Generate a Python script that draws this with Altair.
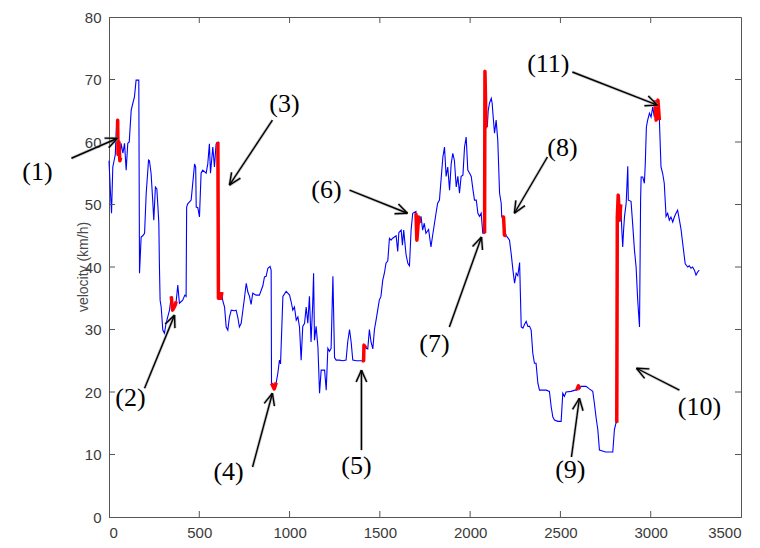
import math
import altair as alt
import pandas as pd

# ---------------- data ----------------
time_s = [0, 8, 14, 21, 28, 35, 42, 48, 50, 55, 60, 67, 77, 86, 95, 104, 112, 123, 132, 141, 150, 165,
          169, 178, 187, 197, 206, 219, 224, 233, 242, 248, 257, 265, 271, 276, 279, 283, 289, 298, 307,
          316, 335, 345, 352, 360, 368, 372, 381, 390, 408, 420, 427, 430, 436, 455, 474, 480, 483, 492,
          501, 510, 519, 538, 547, 556, 562, 575, 584, 593, 603, 606, 620, 625, 630, 640, 649, 658, 667,
          677, 695, 704, 713, 722, 732, 741, 750, 760, 769, 778, 787, 796, 814, 833, 852, 861, 870, 880,
          892, 898, 900, 915, 926, 935, 944, 950, 963, 981, 1000, 1009, 1018, 1027, 1037, 1046, 1055,
          1064, 1073, 1083, 1092, 1101, 1110, 1119, 1128, 1133, 1138, 1147, 1157, 1166, 1175, 1185,
          1194, 1203, 1212, 1221, 1230, 1240, 1249, 1258, 1276, 1295, 1313, 1322, 1332, 1341, 1350,
          1370, 1385, 1400, 1410, 1412, 1424, 1433, 1442, 1451, 1461, 1470, 1479, 1497, 1506, 1516,
          1525, 1534, 1544, 1553, 1562, 1571, 1590, 1599, 1605, 1618, 1625, 1632, 1645, 1655, 1664,
          1673, 1682, 1700, 1705, 1715, 1719, 1728, 1737, 1746, 1755, 1770, 1783, 1792, 1811, 1820,
          1830, 1849, 1858, 1867, 1876, 1886, 1895, 1904, 1913, 1923, 1932, 1941, 1950, 1960, 1969,
          1978, 1987, 1997, 2006, 2016, 2024, 2034, 2043, 2052, 2061, 2070, 2080, 2082, 2088, 2095,
          2100, 2107, 2117, 2122, 2126, 2135, 2144, 2153, 2163, 2172, 2175, 2185, 2190, 2200, 2218,
          2227, 2237, 2246, 2255, 2264, 2274, 2278, 2283, 2292, 2301, 2310, 2320, 2329, 2338, 2347,
          2356, 2365, 2375, 2384, 2402, 2421, 2439, 2449, 2458, 2467, 2486, 2504, 2513, 2522, 2531,
          2559, 2580, 2590, 2600, 2605, 2614, 2642, 2660, 2679, 2688, 2697, 2707, 2716, 2750, 2790,
          2799, 2808, 2812, 2815, 2820, 2828, 2834, 2840, 2845, 2850, 2855, 2864, 2873, 2876, 2891,
          2900, 2910, 2919, 2928, 2938, 2944, 2947, 2956, 2965, 2970, 2976, 2983, 2993, 3002, 3011,
          3020, 3022, 3030, 3040, 3048, 3057, 3066, 3075, 3085, 3094, 3103, 3112, 3122, 3131, 3140,
          3149, 3159, 3168, 3177, 3191, 3205, 3214, 3223, 3232, 3242, 3251, 3260, 3269]
velocity = [57, 52, 48.6, 56, 57, 58, 63.5, 63.5, 58, 60, 57, 59.8, 58.2, 59.8, 55.5, 59.8, 60, 65.1,
            66.2, 67.2, 69.9, 69.9, 39, 44.8, 45, 45.4, 51.8, 57.1, 57, 55, 50.7, 47.5, 52.8, 52.5,
            49.6, 47, 40.6, 34.7, 33.6, 29.9, 29.4, 31, 33.1, 35.3, 33.1, 33.5, 34, 34.5, 37.1, 34.2,
            34.7, 35.5, 35.3, 49.6, 50.1, 50.7, 56.5, 56, 49.6, 49.5, 48, 55, 55.5, 55, 56.5, 59.7,
            55, 59.2, 56, 59.7, 60, 35, 35, 36, 34.6, 33.6, 30.4, 29.9, 32, 33.1, 33, 33.1, 32, 30.4,
            31, 33, 35, 37.4, 36, 35.3, 34, 35.8, 35.5, 35.5, 37, 38.4, 38.5, 39.8, 40.1, 39.5, 21.4,
            20.5, 21.5, 23, 25.1, 24.5, 35.3, 36.1, 35.5, 34.4, 33.1, 33.6, 31.5, 32, 30.4, 25.1,
            30.5, 31, 33.6, 31, 35.3, 28, 34, 39, 28.3, 30.5, 27.2, 19.8, 23.5, 23.5, 23.5, 20.3, 27,
            26.5, 27, 38.5, 25.5, 25.1, 25.1, 25, 25.1, 28, 30, 28, 25.1, 25, 25, 25, 25, 27.5, 27,
            26.9, 30, 28, 26.9, 30, 31.5, 34.7, 35.3, 37.9, 39, 40.6, 41, 44.6, 44.3, 44.6, 45, 42.5,
            45.5, 45.9, 43.5, 45.9, 42, 40.6, 40.2, 45.9, 48.6, 48.9, 44.3, 48, 47, 48.1, 45.9, 47,
            45.4, 46, 43.2, 45, 48.6, 50.2, 50.7, 57.6, 59.2, 54.5, 56, 52.3, 56.5, 58.2, 57, 52.8,
            54.5, 51.8, 54.5, 54.7, 59.2, 60.8, 55.5, 55, 54.5, 52.3, 50.7, 50.7, 48.6, 48.1, 48.6,
            45.4, 45.4, 71.3, 62.5, 62.5, 65, 66.2, 67, 66.2, 64.6, 61.4, 63.5, 60.3, 51.8, 50.2, 48,
            48, 45.1, 45, 44.3, 42.2, 39.5, 37.4, 39, 38.6, 40.7, 36, 30.4, 30.2, 30.8, 31.3, 30.5,
            30.5, 29.9, 26.2, 24.6, 24.6, 21.4, 20.3, 20.3, 20.3, 20.1, 17.6, 16, 15.5, 15.3, 15.3,
            19.8, 19.3, 20, 20.1, 20.3, 20.3, 21, 20.5, 20.9, 20.9, 20.5, 20.1, 18.2, 16, 14, 10.7,
            10.4, 10.4, 14, 15.1, 15.1, 48, 51.5, 47.5, 50, 45.9, 43.2, 46, 48.1, 50.2, 56.1, 50.7,
            50.5, 46.9, 42.7, 40, 34.7, 30.4, 50.7, 54.4, 54.4, 53.4, 56.6, 62.4, 63.5, 64.6, 64, 65.6,
            64, 66.7, 63.5, 66.7, 63.5, 56, 55, 53.4, 48.1, 48.6, 47.5, 48, 47.2, 48, 48.6, 49.1,
            47.5, 46, 43.8, 40.5, 40, 40.2, 39.8, 40, 39.5, 38.7, 39.2, 39.5]

# highlighted (red) segments: id, time, velocity
seg_id = [1] * 6 + [2] * 5 + [3] * 4 + [4] * 3 + [5] * 4 + [6] * 4 + [7] * 4 + [8] * 4 + [9] * 3 + [10] * 5 + [11] * 4
seg_time = [42, 48, 50, 55, 60, 65,
            345, 352, 360, 368, 372,
            603, 606, 620, 625,
            900, 915, 926,
            1400, 1410, 1412, 1424,
            1700, 1705, 1715, 1719,
            2080, 2082, 2088, 2095,
            2175, 2185, 2190, 2200,
            2590, 2600, 2605,
            2812, 2815, 2820, 2828, 2834,
            3022, 3030, 3040, 3048]
seg_vel = [63.5, 63.5, 58, 60, 57, 57.5,
           35.3, 33.1, 33.5, 34, 34.5,
           60, 35, 35, 36,
           21.4, 20.5, 21.5,
           25, 25, 27.5, 27,
           48.6, 44.3, 48, 47,
           45.4, 71.3, 62.5, 62.5,
           48, 48, 45.1, 45,
           20.3, 21, 20.5,
           15.1, 48, 51.5, 47.5, 50,
           66.7, 63.5, 66.7, 63.5]

# annotation labels and arrows (data coordinates)
label_text = ["(1)", "(2)", "(3)", "(4)", "(5)", "(6)", "(7)", "(8)", "(9)", "(10)", "(11)"]
label_x = [-396, 119, 972, 662, 1370, 1204, 1802, 2511, 2555, 3270, 2433]
label_y = [55.2, 19.0, 66.1, 7.2, 8.2, 52.3, 27.7, 59.0, 7.5, 17.6, 72.5]
tail_x = [-208, 197, 905, 795, 1398, 1332, 1885, 2428, 2561, 3159, 2566]
tail_y = [57.4, 20.6, 63.5, 8.0, 10.7, 52.3, 30.4, 57.6, 9.6, 20.3, 71.2]
head_x = [47, 363, 667, 905, 1398, 1653, 2063, 2245, 2605, 2921, 3037]
head_y = [60.6, 32.3, 53.1, 19.8, 23.5, 48.6, 44.8, 48.6, 19.0, 23.8, 65.9]

x_ticks = [0, 500, 1000, 1500, 2000, 2500, 3000, 3500]
y_ticks = [0, 10, 20, 30, 40, 50, 60, 70, 80]

# ---------------- layout ----------------
W, H = 632, 500
X_MAX, Y_MAX = 3500, 80
sx, sy = W / X_MAX, H / Y_MAX  # px per data unit

line_df = pd.DataFrame({"t": time_s, "v": velocity})
seg_df = pd.DataFrame({"id": seg_id, "t": seg_time, "v": seg_vel})
lab_df = pd.DataFrame({"txt": label_text, "x": label_x, "y": label_y})

shaft_rows, barb_rows = [], []
for tx, ty, hx, hy in zip(tail_x, tail_y, head_x, head_y):
    shaft_rows.append({"x": tx, "y": ty, "x2": hx, "y2": hy})
    dx, dy = (hx - tx) * sx, (hy - ty) * sy
    ang = math.atan2(dy, dx)
    for s in (-1, 1):
        a = ang + math.pi + s * math.radians(24)
        bx = hx + 13 * math.cos(a) / sx
        by = hy + 13 * math.sin(a) / sy
        barb_rows.append({"x": hx, "y": hy, "x2": bx, "y2": by})
arrow_df = pd.DataFrame(shaft_rows + barb_rows)

xs = alt.Scale(domain=[0, X_MAX], nice=False, zero=False)
ys = alt.Scale(domain=[0, Y_MAX], nice=False, zero=False)

axis_style = dict(labelFont="Liberation Sans", labelFontSize=15, labelColor="#3a3a3a",
                  domainColor="#555555", ticks=False, grid=False, title=None, format="d")

base_line = alt.Chart(line_df).mark_line(color="#0000ff", strokeWidth=1.1, interpolate="linear").encode(
    x=alt.X("t:Q", scale=xs, axis=alt.Axis(values=x_ticks, labelPadding=8, **axis_style)),
    y=alt.Y("v:Q", scale=ys, axis=alt.Axis(values=y_ticks, labelPadding=8, **axis_style)),
)

red = alt.Chart(seg_df).mark_line(color="#ff0000", strokeWidth=3.5, strokeJoin="round").encode(
    x=alt.X("t:Q", scale=xs), y=alt.Y("v:Q", scale=ys), detail="id:N"
)

shadow = alt.Chart(arrow_df).mark_rule(color="#9a9a9a", strokeWidth=3, opacity=0.5).encode(
    x=alt.X("x:Q", scale=xs), y=alt.Y("y:Q", scale=ys), x2="x2:Q", y2="y2:Q"
)
arrows = alt.Chart(arrow_df).mark_rule(color="#000000", strokeWidth=1.4).encode(
    x=alt.X("x:Q", scale=xs), y=alt.Y("y:Q", scale=ys), x2="x2:Q", y2="y2:Q"
)

labels = alt.Chart(lab_df).mark_text(font="Liberation Serif", fontSize=26, color="#000000").encode(
    x=alt.X("x:Q", scale=xs), y=alt.Y("y:Q", scale=ys), text="txt:N"
)

ytitle = alt.Chart(pd.DataFrame({"x": [-136], "y": [40], "txt": ["velocity (km/h)"]})).mark_text(
    font="Liberation Sans", fontSize=14, color="#4a4a4a", angle=270
).encode(x=alt.X("x:Q", scale=xs), y=alt.Y("y:Q", scale=ys), text="txt:N")

inner_x = pd.DataFrame({"t": x_ticks[1:-1]})
inner_y = pd.DataFrame({"v": y_ticks[1:-1]})
tick_b = alt.Chart(inner_x).mark_rule(color="#555555").encode(
    x=alt.X("t:Q", scale=xs), y=alt.value(H), y2=alt.value(H - 6))
tick_t = alt.Chart(inner_x).mark_rule(color="#555555").encode(
    x=alt.X("t:Q", scale=xs), y=alt.value(0), y2=alt.value(6))
tick_l = alt.Chart(inner_y).mark_rule(color="#555555").encode(
    y=alt.Y("v:Q", scale=ys), x=alt.value(0), x2=alt.value(6))
tick_r = alt.Chart(inner_y).mark_rule(color="#555555").encode(
    y=alt.Y("v:Q", scale=ys), x=alt.value(W), x2=alt.value(W - 6))

chart = alt.layer(
    base_line, red, tick_b, tick_t, tick_l, tick_r, shadow, arrows, labels, ytitle
).properties(
    width=W, height=H,
    padding={"left": 109, "top": 17, "right": 19, "bottom": 31},
    autosize=alt.AutoSizeParams(type="none"),
    background="white",
).configure_view(stroke="#555555", strokeWidth=1)

chart.save("out.html", embed_options={"renderer": "svg", "actions": False})
